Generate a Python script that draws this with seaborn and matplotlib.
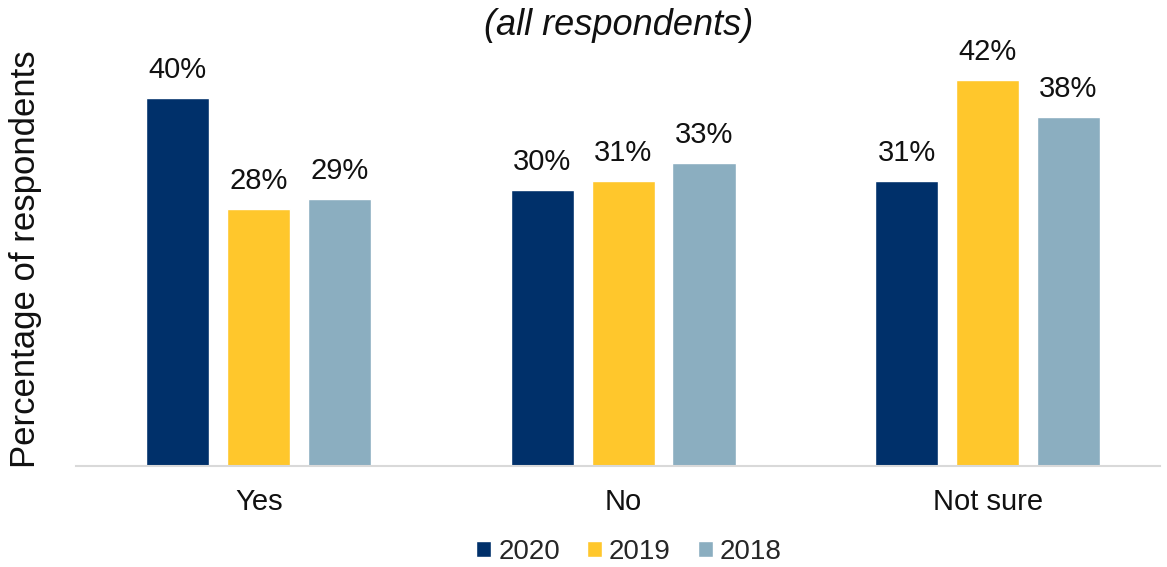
import pandas as pd
import matplotlib.pyplot as plt
import seaborn as sns

categories = ["Yes", "No", "Not sure"]
years = ["2020", "2019", "2018"]
values_2020 = [40, 30, 31]
values_2019 = [28, 31, 42]
values_2018 = [29, 33, 38]

colors = {"2020": "#00306A", "2019": "#FFC72C", "2018": "#8BAEC0"}

rows = []
for yr, vals in zip(years, [values_2020, values_2019, values_2018]):
    for cat, v in zip(categories, vals):
        rows.append({"answer": cat, "year": yr, "pct": v})
df = pd.DataFrame(rows)

sns.set_theme(style="white")
plt.rcParams["font.family"] = ["Liberation Sans", "DejaVu Sans"]

fig = plt.figure(figsize=(11.67, 5.67), dpi=100)
ax = fig.add_axes([0.0655, 0.178, 0.9285, 0.73])

sns.barplot(data=df, x="answer", y="pct", hue="year", order=categories,
            hue_order=years, palette=colors, width=0.666, gap=0.22,
            saturation=1, ax=ax)

for cont in ax.containers:
    ax.bar_label(cont, labels=[f"{v:.0f}%" for v in cont.datavalues],
                 padding=10, fontsize=21, color="#111111")

ax.set_ylim(0, 45)
ax.set_xlim(-0.5, 2.473)
ax.set_yticks([])
ax.set_xlabel("")
ax.set_ylabel("Percentage of respondents", fontsize=25, color="#111111", labelpad=25)
ax.tick_params(axis="x", labelsize=21, colors="#111111", length=0, pad=16)
for s in ["top", "right", "left"]:
    ax.spines[s].set_visible(False)
ax.spines["bottom"].set_color("#d9d9d9")
ax.spines["bottom"].set_linewidth(1.5)

ax.set_title("(all respondents)", fontsize=26, style="italic", color="#111111", pad=12)

handles, labels = ax.get_legend_handles_labels()
ax.legend(handles, labels, loc="upper center", bbox_to_anchor=(0.51, -0.115),
          ncol=3, frameon=False, fontsize=20, handlelength=0.54, handleheight=0.54,
          handletextpad=0.25, columnspacing=0.97)

fig.savefig("out.png", dpi=100)
